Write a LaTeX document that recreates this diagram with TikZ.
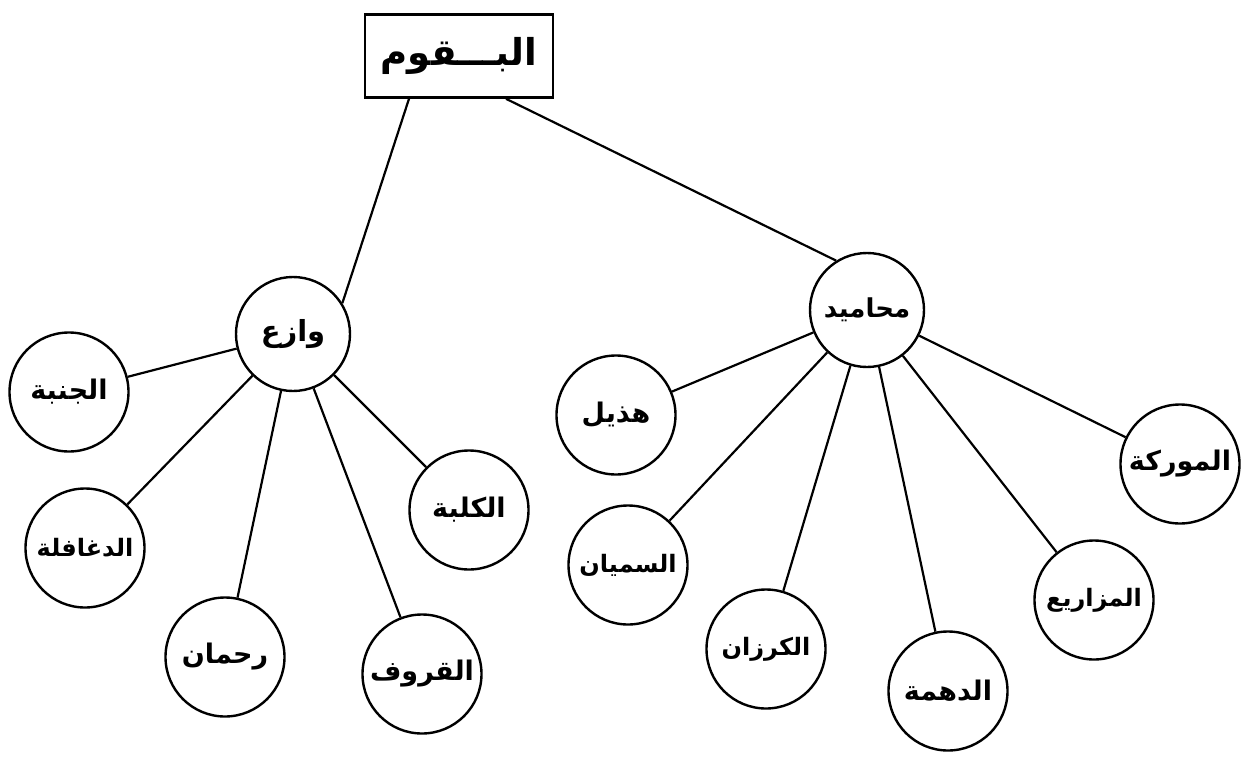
\documentclass[tikz,border=0pt]{standalone}
\usepackage{fontspec}
\TeXXeTstate=1
\newfontfamily\arabicfont[Script=Arabic]{DejaVu Sans}
\newcommand{\ar}[1]{{\arabicfont\beginR #1\endR}}
\begin{document}
\begin{tikzpicture}[x=1pt,y=-1pt,
  tribe/.style={draw, line width=2.4pt, circle, minimum size=119pt, inner sep=0pt,
    font=\arabicfont\bfseries\fontsize{27}{30}\selectfont},
  longname/.style={font=\arabicfont\bfseries\fontsize{24}{27}\selectfont},
  hub/.style={tribe, minimum size=114pt, font=\arabicfont\bfseries\fontsize{29}{32}\selectfont},
  link/.style={line width=2.2pt}]
\fill[white] (0,0) rectangle (1254,758);
\useasboundingbox (0,0) rectangle (1254,758);
\node[draw, line width=2.6pt, minimum width=188pt, minimum height=83pt, inner sep=0pt,
  font=\arabicfont\bfseries\fontsize{37}{42}\selectfont] (top) at (459,56) {\ar{البـــقوم}};
\node[hub] (wazi) at (293,334) {\ar{وازع}};
\node[hub, font=\arabicfont\bfseries\fontsize{26}{29}\selectfont] (mahamid) at (867,310) {\ar{محاميد}};
% left children
\node[tribe] (janba) at (69,392) {\ar{الجنبة}};
\node[tribe, longname] (dghafla) at (85,548) {\ar{الدغافلة}};
\node[tribe] (rahman) at (225,657) {\ar{رحمان}};
\node[tribe] (qurouf) at (422,674) {\ar{القروف}};
\node[tribe] (kalba) at (469,510) {\ar{الكلبة}};
% right children
\node[tribe] (hudhail) at (616,415) {\ar{هذيل}};
\node[tribe, longname] (sumayan) at (628,565) {\ar{السميان}};
\node[tribe, longname] (karzan) at (766,649) {\ar{الكرزان}};
\node[tribe] (dahma) at (948,691) {\ar{الدهمة}};
\node[tribe, longname] (mazari) at (1094,600) {\ar{المزاريع}};
\node[tribe] (mawraka) at (1180,464) {\ar{الموركة}};
% connectors
\draw[link] ([xshift=-50pt]top.south) -- (wazi.32);
\draw[link] ([xshift=47pt]top.south) -- (mahamid.122);
\foreach \c in {janba,dghafla,rahman,qurouf,kalba}
  \draw[link] (wazi) -- (\c);
\foreach \c in {hudhail,sumayan,karzan,dahma,mazari,mawraka}
  \draw[link] (mahamid) -- (\c);
\end{tikzpicture}
\end{document}
